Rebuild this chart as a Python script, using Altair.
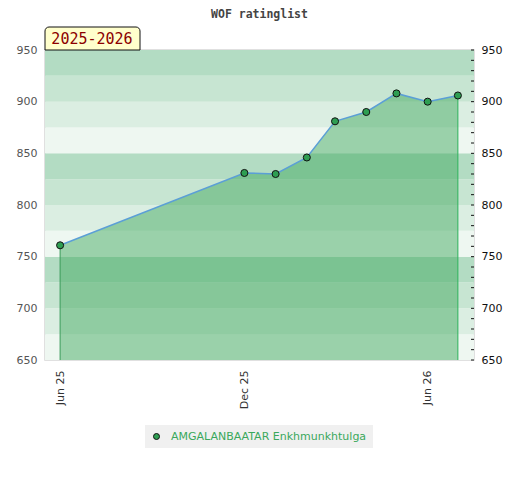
import altair as alt
import pandas as pd

# ---- data ----
dates = ["2025-06-01", "2025-12-01", "2026-01-01", "2026-02-01", "2026-03-01",
         "2026-04-01", "2026-05-01", "2026-06-01", "2026-07-01"]
ratings = [761, 831, 830, 846, 881, 890, 908, 900, 906]
player = "AMGALANBAATAR Enkhmunkhtulga"
season_label = "2025-2026"
title_text = "WOF ratinglist"

y_min, y_max = 650, 950
x_start, x_end = "2025-05-17", "2026-07-17"
band_lows = list(range(650, 950, 25))
band_colors = ["#b3dcc3", "#c7e5d2", "#dbeee2", "#eef7f1"]  # by (low % 100): 25, 0, 75, 50
minor_ticks = list(range(650, 951, 10))

W, H = 429, 310
GREEN = "#2e9e52"

df = pd.DataFrame({"date": dates, "rating": ratings, "player": [player] * len(dates)})
order = {25: 0, 0: 1, 75: 2, 50: 3}
bands = pd.DataFrame({
    "lo": band_lows,
    "hi": [b + 25 for b in band_lows],
    "shade": [order[b % 100] for b in band_lows],
})
ticks_df = pd.DataFrame({"v": minor_ticks})
first_pt = df.iloc[[0]]
last_pt = df.iloc[[-1]]

xscale = alt.Scale(type="utc", domain=[x_start, x_end])
yscale = alt.Scale(domain=[y_min, y_max], nice=False, zero=False)

x_enc = alt.X("date:T", scale=xscale,
              axis=alt.Axis(values=[alt.DateTime(year=2025, month=6, date=1, utc=True),
                                    alt.DateTime(year=2025, month=12, date=1, utc=True),
                                    alt.DateTime(year=2026, month=6, date=1, utc=True)],
                            format="%b %y", labelAngle=270, ticks=False, domain=False,
                            grid=False, title=None, labelPadding=10, labelFontSize=11,
                            labelColor="#333", labelFont="DejaVu Sans"))

left_axis = alt.Axis(values=[650, 700, 750, 800, 850, 900, 950], ticks=False, domain=False,
                     grid=False, title=None, labelPadding=8, labelFontSize=11,
                     labelColor="#555", labelFont="DejaVu Sans")

band_layer = alt.Chart(bands).mark_rect().encode(
    x=alt.value(0), x2=alt.value(W),
    y=alt.Y("lo:Q", scale=yscale, axis=left_axis),
    y2="hi:Q",
    fill=alt.Fill("shade:O", scale=alt.Scale(domain=[0, 1, 2, 3], range=band_colors), legend=None),
)

area = alt.Chart(df).mark_area(color="rgb(63,167,93)", opacity=0.48).encode(
    x=x_enc, y=alt.Y("rating:Q", scale=yscale), y2=alt.datum(y_min)
)

first_rule = alt.Chart(first_pt).mark_rule(strokeWidth=1, color="#3a9a5a").encode(
    x=alt.X("date:T", scale=xscale),
    y=alt.Y("rating:Q", scale=yscale), y2=alt.datum(y_min),
)
last_rule = alt.Chart(last_pt).mark_rule(strokeWidth=1, color="#2db35a").encode(
    x=alt.X("date:T", scale=xscale),
    y=alt.Y("rating:Q", scale=yscale), y2=alt.datum(y_min),
)

line = alt.Chart(df).mark_line(color="#5b9fd6", strokeWidth=1.5).encode(
    x=alt.X("date:T", scale=xscale), y=alt.Y("rating:Q", scale=yscale)
)

points = alt.Chart(df).mark_point(filled=True, size=50, stroke="#111", strokeWidth=1, opacity=1).encode(
    x=alt.X("date:T", scale=xscale), y=alt.Y("rating:Q", scale=yscale),
    color=alt.Color("player:N", scale=alt.Scale(domain=[player], range=[GREEN]),
                    legend=alt.Legend(orient="none", legendX=100, legendY=375, title=None,
                                      fillColor="#f0f0f0", padding=6, labelColor="#3aa85c",
                                      labelFont="DejaVu Sans", labelFontSize=11, labelOffset=9,
                                      labelLimit=400,
                                      symbolType="circle", symbolSize=36, symbolStrokeColor="#111",
                                      symbolStrokeWidth=1, symbolFillColor=GREEN)),
)

right_axis_layer = alt.Chart(ticks_df).mark_rule(color="#111", strokeWidth=1).encode(
    x=alt.value(W - 3), x2=alt.value(W),
    y=alt.Y("v:Q", scale=yscale,
            axis=alt.Axis(orient="right", values=[650, 700, 750, 800, 850, 900, 950], ticks=False,
                          domain=False, grid=False, title=None, labelPadding=7, labelFontSize=11,
                          labelColor="#111", labelFont="DejaVu Sans")),
)

season = pd.DataFrame({"t": [season_label]})
season_box = alt.Chart(season).mark_rect(fill="#ffffcc", stroke="#111", strokeWidth=1,
                                          cornerRadiusTopLeft=4, cornerRadiusTopRight=4).encode(
    x=alt.value(0), x2=alt.value(95), y=alt.value(-23), y2=alt.value(0)
)
season_text = alt.Chart(season).mark_text(font="DejaVu Sans Mono", fontSize=15, color="#8b0000",
                                          align="center", baseline="middle").encode(
    x=alt.value(47), y=alt.value(-11), text="t:N"
)

left = alt.layer(band_layer, area, first_rule, last_rule, line, points, season_box, season_text)
chart = alt.layer(left, right_axis_layer).resolve_scale(y="independent").properties(
    width=W, height=H,
    title=alt.TitleParams(title_text, font="DejaVu Sans Mono", fontSize=11.5, fontWeight="bold",
                          color="#444", anchor="middle", offset=6),
    autosize=alt.AutoSizeParams(type="none"),
    padding={"left": 37, "top": 42, "right": 36, "bottom": 95},
).configure_view(stroke="#d6d6d6", strokeWidth=1.5)

chart.save("out.html", embed_options={"renderer": "svg", "actions": False})
